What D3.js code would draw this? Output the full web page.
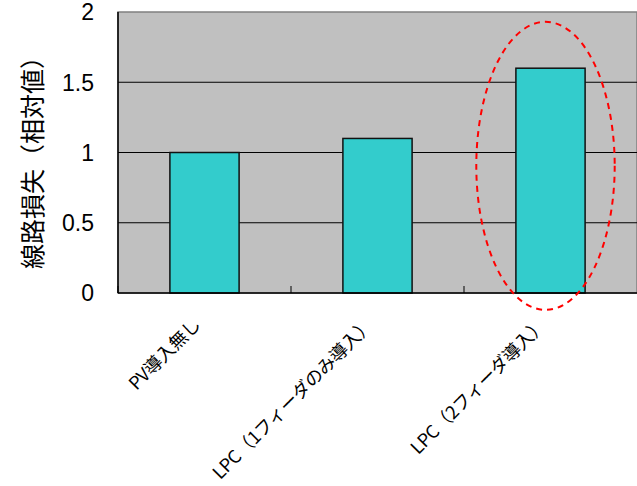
<!DOCTYPE html>
<html lang="ja">
  <head>
    <meta charset="utf-8">
    <title>線路損失</title>
    <script src="https://d3js.org/d3.v7.min.js"></script>
    <style>
      body { margin: 0; background: #fff; }
      text { font-family: "Liberation Sans", "Noto Sans CJK JP", sans-serif; fill: #000; }
      .jp { font-family: "Noto Sans CJK JP", sans-serif; }
    </style>
  </head>
  <body>
    <div id="chart"></div>
    <script>
      "use strict"

      // dados
      const categorias = ["PV導入無し", "LPC（1フィーダのみ導入）", "LPC（2フィーダ導入）"]
      const valores = [1.0, 1.1, 1.6]
      const ticksY = [0, 0.5, 1, 1.5, 2]
      const destaque = 2 // indice da barra circulada

      const larguraSVG = 637, alturaSVG = 486
      const margin = {top: 12, right: 0, bottom: 193, left: 118}
      const larguraVis = larguraSVG - margin.left - margin.right
      const alturaVis = alturaSVG - margin.top - margin.bottom

      const svg = d3.select("#chart").append("svg")
          .attr("width", larguraSVG)
          .attr("height", alturaSVG)

      const g = svg.append("g")
          .attr("transform", "translate(" + margin.left + "," + margin.top + ")")

      const x = d3.scaleBand().domain(categorias).range([0, larguraVis]).padding(0)
      const y = d3.scaleLinear().domain([0, 2]).range([alturaVis, 0])
      const larguraBarra = x.bandwidth() * 0.4

      // fundo
      g.append("rect")
          .attr("width", larguraVis)
          .attr("height", alturaVis)
          .attr("fill", "#c0c0c0")
          .attr("stroke", "#808080")
          .attr("stroke-width", 1.5)

      // linhas de grade
      g.selectAll("line.grade")
        .data(ticksY.filter(d => d > 0 && d < 2))
        .enter().append("line")
          .attr("class", "grade")
          .attr("x1", 0).attr("x2", larguraVis)
          .attr("y1", d => y(d)).attr("y2", d => y(d))
          .attr("stroke", "#000").attr("stroke-width", 1)

      // barras
      g.selectAll("rect.barra")
        .data(valores)
        .enter().append("rect")
          .attr("class", "barra")
          .attr("x", (d, i) => x(categorias[i]) + (x.bandwidth() - larguraBarra) / 2)
          .attr("y", d => y(d))
          .attr("width", larguraBarra)
          .attr("height", d => alturaVis - y(d))
          .attr("fill", "#33cccc")
          .attr("stroke", "#111")
          .attr("stroke-width", 1.5)

      // eixo y
      g.append("line")
          .attr("x1", 0).attr("x2", 0).attr("y1", 0).attr("y2", alturaVis)
          .attr("stroke", "#000").attr("stroke-width", 1.5)
      g.selectAll("text.ty")
        .data(ticksY)
        .enter().append("text")
          .attr("class", "ty")
          .attr("x", -24)
          .attr("y", d => y(d))
          .attr("dy", "0.36em")
          .attr("text-anchor", "end")
          .style("font-size", "23px")
          .text(d => d)

      // eixo x
      g.append("line")
          .attr("x1", 0).attr("x2", larguraVis).attr("y1", alturaVis).attr("y2", alturaVis)
          .attr("stroke", "#000").attr("stroke-width", 1.5)
      g.selectAll("line.tx")
        .data(categorias)
        .enter().append("line")
          .attr("class", "tx")
          .attr("x1", d => x(d)).attr("x2", d => x(d))
          .attr("y1", alturaVis - 7).attr("y2", alturaVis)
          .attr("stroke", "#000").attr("stroke-width", 1)

      g.selectAll("text.cat")
        .data(categorias)
        .enter().append("text")
          .attr("class", "cat jp")
          .attr("text-anchor", "end")
          .attr("transform", d => "translate(" + (x(d) + x.bandwidth() / 2 - 3) + "," + (alturaVis + 33) + ") rotate(-45)")
          .style("font-size", "18px")
          .style("letter-spacing", "-0.3px")
          .text(d => d)

      // titulo do eixo y
      svg.append("text")
          .attr("class", "jp")
          .attr("text-anchor", "middle")
          .attr("transform", "translate(33," + (margin.top + alturaVis / 2 + 4) + ") rotate(-90)")
          .attr("dy", "0.35em")
          .style("font-size", "25px")
          .text("線路損失（相対値）")

      // elipse vermelha tracejada
      g.append("ellipse")
          .attr("cx", x(categorias[destaque]) + x.bandwidth() / 2 - 5)
          .attr("cy", (y(1.93) + y(-0.12)) / 2)
          .attr("rx", x.bandwidth() * 0.4)
          .attr("ry", (y(-0.12) - y(1.93)) / 2)
          .attr("fill", "none")
          .attr("stroke", "#ff0000")
          .attr("stroke-width", 2)
          .attr("stroke-dasharray", "6,5")
    </script>
  </body>
</html>
